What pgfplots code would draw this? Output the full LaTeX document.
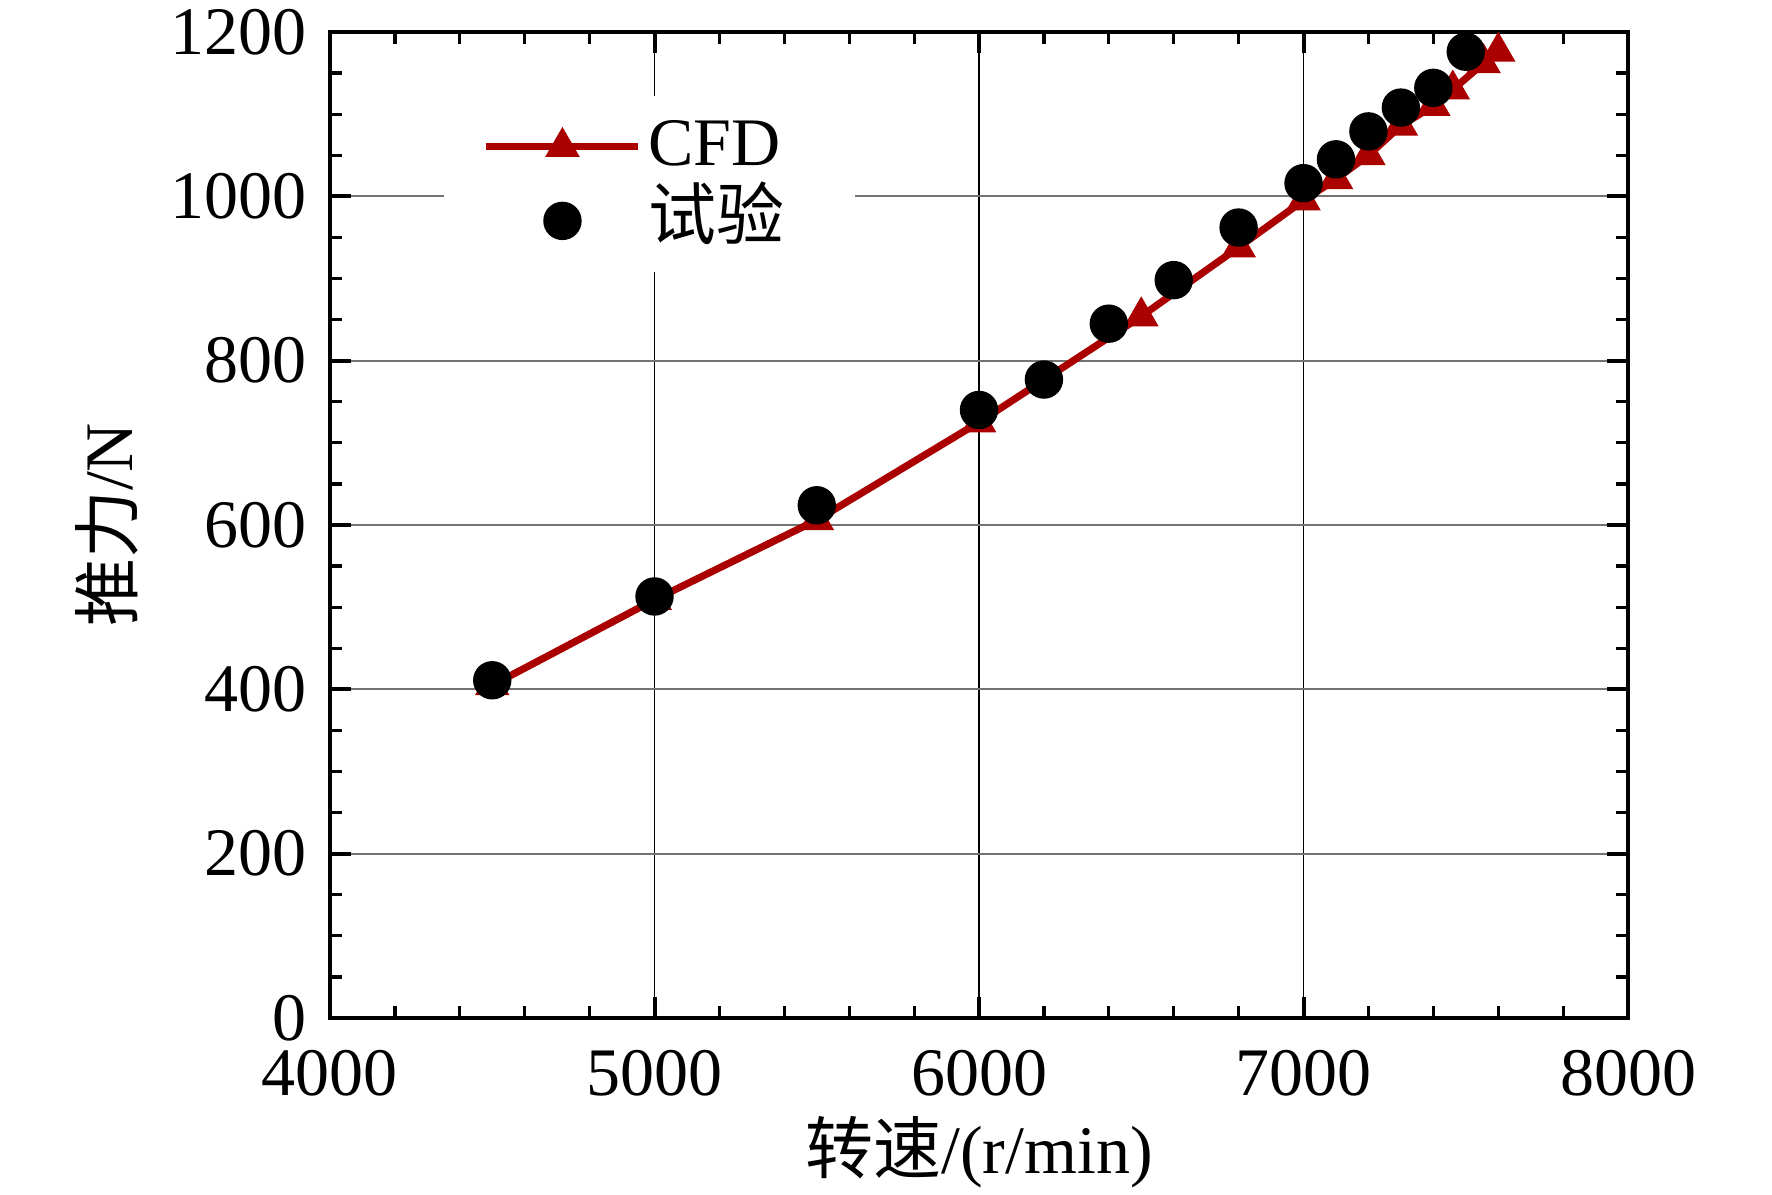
\documentclass[border=0pt]{standalone}
\usepackage{fontspec}
\setmainfont{Liberation Serif}
\newfontfamily\cjk{Noto Sans CJK SC}
\usepackage{pgfplots}
\pgfplotsset{compat=1.18}
\definecolor{cfdred}{RGB}{170,0,0}
\begin{document}
\fontsize{17}{20}\selectfont
\begin{tikzpicture}
\begin{axis}[
  scale only axis,
  width=324.5pt, height=246.5pt,
  xmin=4000, xmax=8000, ymin=0, ymax=1200,
  xtick={4000,5000,6000,7000,8000},
  ytick={0,200,...,1200},
  minor x tick num=4, minor y tick num=3,
  tick align=inside,
  tick pos=both,
  major tick length=5.2pt, minor tick length=3pt,
  every major tick/.append style={line width=1pt, black},
  every minor tick/.append style={line width=0.8pt, black},
  axis line style={line width=1.2pt},
  xmajorgrids, ymajorgrids,
  x grid style={black, line width=0.35pt},
  y grid style={black!55, line width=0.45pt},
  scaled ticks=false,
  /pgf/number format/1000 sep={},
  /pgf/number format/assume math mode=true,
  xticklabel style={inner ysep=1pt, yshift=-6.97pt},
  yticklabel style={inner ysep=0pt},
  clip=false,
  xlabel={{\cjk 转速}/(r/min)},
  ylabel={{\cjk 推力}/N},
  every axis x label/.style={at={([yshift=-33.5pt]axis description cs:0.5,0)}, anchor=center},
  every axis y label/.style={at={([xshift=-55.75pt]axis description cs:0,0.5)}, anchor=center, rotate=90},
  legend style={at={(rel axis cs:0.0871,0.936)}, anchor=north west, fill=white, draw=none,
    inner xsep=9.75pt, inner ysep=4.5pt, row sep=2pt, column sep=1.5pt,
    nodes={inner sep=0pt, text height=13pt, text depth=3.5pt, text width=42pt}},
  legend cell align=left,
  legend image code/.code={\draw[mark repeat=2,mark phase=2,#1] plot coordinates {(0pt,0pt) (19pt,0pt) (38pt,0pt)};},
]
\addplot[color=cfdred, line width=1.8pt, mark=triangle*, mark size=4.6pt,
  mark options={solid, fill=cfdred, draw=cfdred, line width=0.4pt}]
  coordinates {
  (4500,405) (5000,509) (5500,606) (6000,725) (6500,854) (6800,938)
  (7000,995) (7100,1021) (7200,1050) (7300,1086) (7400,1110)
  (7460,1130) (7555,1162) (7600,1176)
  };
\addlegendentry{CFD}
\addplot[only marks, mark=*, mark size=4.6pt, mark options={fill=black, draw=black}]
  coordinates {
  (4500,411) (5000,513) (5500,624) (6000,740) (6200,777) (6400,845)
  (6600,898) (6800,962) (7000,1016) (7100,1045) (7200,1079)
  (7300,1108) (7400,1132) (7500,1176)
  };
\addlegendentry{{\cjk 试验}}
\end{axis}
\pgfresetboundingbox
\path[use as bounding box] ([shift={(-82.5pt,-44.25pt)}]current axis.south west) rectangle ([shift={(36pt,8pt)}]current axis.north east);
\end{tikzpicture}
\end{document}
